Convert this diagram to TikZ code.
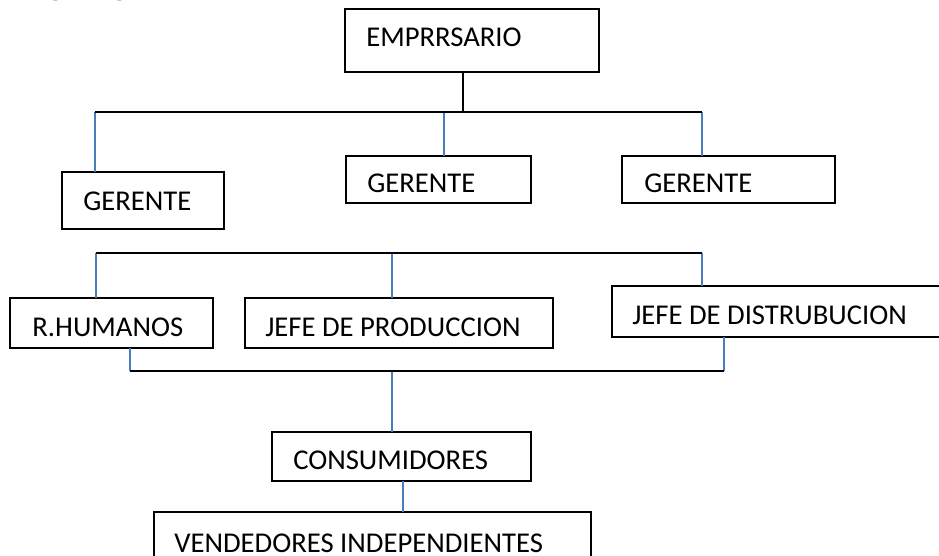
\documentclass[tikz,border=0pt]{standalone}
\usepackage{fontspec}
\setmainfont{Carlito}
\definecolor{conblue}{HTML}{4A7EBB}
\begin{document}
\begin{tikzpicture}[x=0.75pt,y=-0.75pt,
  box/.style={draw=black, line width=0.9pt, fill=white, rectangle, inner sep=0pt, outer sep=0pt, anchor=north west},
  lbl/.style={inner sep=0pt, anchor=base west, font=\fontsize{21.5}{24}\selectfont},
  bar/.style={draw=black, line width=1.5pt},
  link/.style={draw=conblue, line width=1.1pt}]
\useasboundingbox (0,0) rectangle (939,556);
\clip (0,0) rectangle (939,556);
\fill[white] (0,0) rectangle (939,556);
% heading (cut off at top)
\node[inner sep=0pt, anchor=base west, font=\bfseries\fontsize{27.75}{30}\selectfont] (title) at (9,-5.5) {Organigrama};
% boxes
\node[box, minimum width=254*0.75pt, minimum height=63*0.75pt] (emp) at (345,9) {};
\node[box, minimum width=162*0.75pt, minimum height=57*0.75pt] (g1) at (62,172) {};
\node[box, minimum width=185*0.75pt, minimum height=47*0.75pt] (g2) at (346,156) {};
\node[box, minimum width=213*0.75pt, minimum height=47*0.75pt] (g3) at (622,156) {};
\node[box, minimum width=203*0.75pt, minimum height=50*0.75pt] (rh) at (10,298) {};
\node[box, minimum width=308*0.75pt, minimum height=50*0.75pt] (jp) at (245,298) {};
\node[box, minimum width=340*0.75pt, minimum height=51*0.75pt] (jd) at (612,286) {};
\node[box, minimum width=259*0.75pt, minimum height=49*0.75pt] (con) at (272,432) {};
\node[box, minimum width=437*0.75pt, minimum height=60*0.75pt] (ven) at (154,512) {};
% labels
\node[lbl] (tEmp) at (366,47) {EMPRRSARIO};
\node[lbl] (tG1) at (83,211) {GERENTE};
\node[lbl] (tG2) at (367,193) {GERENTE};
\node[lbl] (tG3) at (644,193) {GERENTE};
\node[lbl] (tRh) at (32,336) {R.HUMANOS};
\node[lbl] (tJp) at (265,336) {JEFE DE PRODUCCION};
\node[lbl] (tJd) at (632,324) {JEFE DE DISTRUBUCION};
\node[lbl] (tCon) at (293,469) {CONSUMIDORES};
\node[lbl] (tVen) at (174,552) {VENDEDORES INDEPENDIENTES};
% first bar
\coordinate (aL) at (95,112);
\coordinate (aM) at (463,112);
\coordinate (aC) at (444,112);
\coordinate (aR) at (702,112);
\draw[bar] (aM |- emp.south) -- (aM);
\draw[link] (aL) -- (aL |- g1.north);
\draw[link] (aC) -- (aC |- g2.north);
\draw[link] (aR) -- (aR |- g3.north);
\draw[bar] (aL) -- (aR);
% second bar
\coordinate (bL) at (96,253);
\coordinate (bC) at (392,253);
\coordinate (bR) at (702,253);
\draw[link] (bL) -- (bL |- rh.north);
\draw[link] (bC) -- (bC |- jp.north);
\draw[link] (bR) -- (bR |- jd.north);
\draw[bar] (bL) -- (bR);
% third bar
\coordinate (cL) at (130,371);
\coordinate (cC) at (392,371);
\coordinate (cR) at (724,371);
\draw[link] (cL |- rh.south) -- (cL);
\draw[link] (cR |- jd.south) -- (cR);
\draw[link] (cC) -- (cC |- con.north);
\coordinate (dC) at (403,481);
\draw[link] (dC |- con.south) -- (dC |- ven.north);
\draw[bar] (cL) -- (cR);
\end{tikzpicture}
\end{document}
